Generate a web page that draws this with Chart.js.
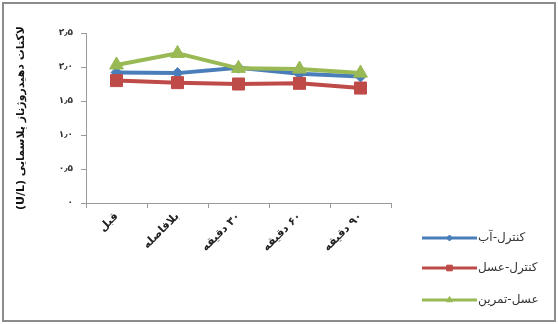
<!DOCTYPE html>
<html>
<head>
<meta charset="utf-8">
<script src="https://cdn.jsdelivr.net/npm/chart.js@4/dist/chart.umd.min.js"></script>
<style>
html,body{margin:0;padding:0;background:#fff;}
#wrap{width:558px;height:324px;}
canvas{direction:rtl;}
</style>
</head>
<body>
<div id="wrap"><canvas id="c" width="558" height="324" dir="rtl"></canvas></div>
<script>
const categories = ['قبل', 'بلافاصله', '۳۰ دقیقه', '۶۰ دقیقه', '۹۰ دقیقه'];
const seriesNames = ['کنترل-آب', 'کنترل-عسل', 'عسل-تمرین'];
const controlWater = [1.92, 1.91, 1.99, 1.90, 1.86];
const controlHoney = [1.80, 1.77, 1.75, 1.76, 1.69];
const honeyExercise = [2.03, 2.20, 1.98, 1.97, 1.91];
const yTickLabels = ['۰', '۰٫۵', '۱٫۰', '۱٫۵', '۲٫۰', '۲٫۵'];
const yTitle = 'لاکتات دهیدروژناز پلاسمایی (U/L)';

const colors = ['#4a7ebb', '#be4b48', '#98b954'];
const pointStyles = ['rectRot', 'rect', 'triangle'];
const radii = [5.5, 8.5, 8];
const legendRadii = [3, 4, 3.5];

const framePlugin = {
  id: 'frame',
  beforeDraw(chart) {
    const ctx = chart.ctx;
    ctx.save();
    ctx.fillStyle = '#fff';
    ctx.fillRect(0, 0, chart.width, chart.height);
    ctx.strokeStyle = '#8c8c8c';
    ctx.lineWidth = 2;
    ctx.strokeRect(3, 3, chart.width - 6, chart.height - 6);
    ctx.restore();
  }
};

const legendPlugin = {
  id: 'customLegend',
  afterDraw(chart) {
    const ctx = chart.ctx;
    const x0 = 422, x1 = 477;
    const ys = [238, 268, 300];
    ctx.save();
    chart.data.datasets.forEach((ds, i) => {
      const y = ys[i];
      ctx.strokeStyle = ds.borderColor;
      ctx.lineWidth = 3;
      ctx.beginPath();
      ctx.moveTo(x0, y);
      ctx.lineTo(x1, y);
      ctx.stroke();
      ctx.fillStyle = ds.borderColor;
      ctx.strokeStyle = ds.borderColor;
      ctx.lineWidth = 1;
      Chart.helpers.drawPoint(ctx, {
        pointStyle: ds.pointStyle,
        radius: legendRadii[i],
        borderWidth: 1
      }, (x0 + x1) / 2, y);
      ctx.fillStyle = '#333';
      ctx.font = '12px "DejaVu Sans"';
      ctx.textAlign = 'left';
      ctx.textBaseline = 'middle';
      ctx.fillText(ds.label, x1 + 1, y);
    });
    ctx.restore();
  }
};

const datasets = [controlWater, controlHoney, honeyExercise].map((vals, i) => ({
  label: seriesNames[i],
  data: vals,
  borderColor: colors[i],
  backgroundColor: colors[i],
  pointBackgroundColor: colors[i],
  pointBorderColor: colors[i],
  pointStyle: pointStyles[i],
  pointRadius: radii[i],
  pointBorderWidth: 1,
  borderWidth: 4,
  tension: 0,
  fill: false,
  order: 3 - i
}));

new Chart(document.getElementById('c'), {
  type: 'line',
  data: { labels: categories, datasets },
  options: {
    responsive: false,
    animation: false,
    devicePixelRatio: 1,
    layout: { padding: { left: 15, right: 167, top: 33, bottom: 0 } },
    plugins: { legend: { display: false }, tooltip: { enabled: false } },
    scales: {
      x: {
        offset: true,
        grid: { offset: true, drawOnChartArea: false, drawTicks: true, tickLength: 5, color: '#9a9a9a' },
        border: { color: '#9a9a9a', width: 1 },
        ticks: {
          minRotation: 45, maxRotation: 45, autoSkip: false,
          color: '#222',
          font: { family: 'DejaVu Sans', size: 11, weight: 'bold' },
          padding: 2
        },
        afterFit(scale) { scale.height = 121; }
      },
      y: {
        min: 0, max: 2.5,
        grid: { drawOnChartArea: false, drawTicks: true, tickLength: 5, color: '#9a9a9a' },
        border: { color: '#9a9a9a', width: 1 },
        ticks: {
          stepSize: 0.5,
          color: '#333',
          font: { family: 'DejaVu Sans', size: 9, weight: 'bold' },
          padding: 8,
          callback: (v, idx) => yTickLabels[idx]
        },
        title: {
          display: true,
          text: yTitle,
          color: '#111',
          font: { family: 'DejaVu Sans', size: 11, weight: 'bold' },
          padding: 0
        },
        afterFit(scale) { scale.width = 71; }
      }
    }
  },
  plugins: [framePlugin, legendPlugin]
});
</script>
</body>
</html>
